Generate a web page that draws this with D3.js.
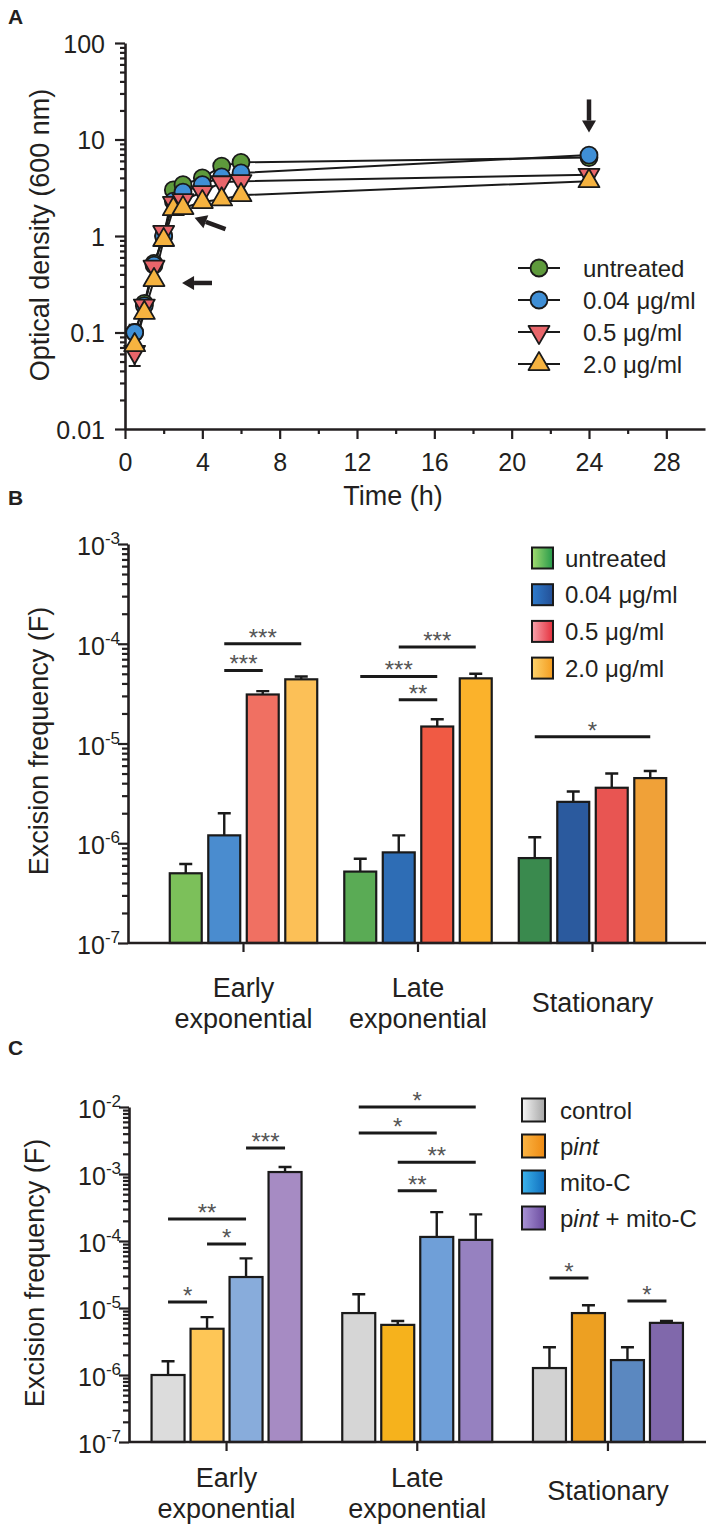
<!DOCTYPE html>
<html>
<head>
<meta charset="utf-8">
<script src="https://cdn.jsdelivr.net/npm/d3@7"></script>
<style>
  body { margin: 0; background: #fff; }
  svg text { font-family: "Liberation Sans", Arial, Helvetica, sans-serif; fill: #231f20; }
</style>
</head>
<body>
<svg id="fig" width="708" height="1530"></svg>
<script>
// ---------- Panel A: growth curves ----------
const times = [0.5, 1, 1.5, 2, 2.5, 3, 4, 5, 6, 24];
const odUntreated = [0.1, 0.2, 0.52, 1.0, 3.0, 3.4, 4.0, 5.3, 5.8, 6.5];
const odLow = [0.1, 0.19, 0.5, 1.0, 2.3, 2.85, 3.4, 4.1, 4.5, 6.9];
const odMid = [0.063, 0.19, 0.48, 1.1, 2.2, 2.35, 2.85, 3.6, 3.7, 4.3];
const odHigh = [0.074, 0.16, 0.35, 0.91, 1.9, 1.95, 2.25, 2.4, 2.65, 3.7];
const odErrBars = [ // [time, low, high]
  [0.5, 0.045, 0.12]
];
const timeTicks = [0, 4, 8, 12, 16, 20, 24, 28];
const timeMinor = [2, 6, 10, 14, 18, 22, 26];
const odTicks = [0.01, 0.1, 1, 10, 100];
const seriesA = ["untreated", "0.04 μg/ml", "0.5 μg/ml", "2.0 μg/ml"];
const arrowsA = [ // [tail time, tail OD, head time, head OD]
  [24, 26, 24, 11.8],
  [5.2, 1.18, 3.6, 1.55],
  [4.5, 0.326, 2.95, 0.326]
];

// ---------- Panel B: excision frequency, MMC doses ----------
const phases = [["Early", "exponential"], ["Late", "exponential"], ["Stationary"]];
const seriesB = ["untreated", "0.04 μg/ml", "0.5 μg/ml", "2.0 μg/ml"];
const bUntreated = [5.0e-7, 5.2e-7, 7.1e-7];
const bUntreatedErr = [6.2e-7, 7.0e-7, 1.15e-6];
const bLow = [1.2e-6, 8.1e-7, 2.6e-6];
const bLowErr = [2.0e-6, 1.2e-6, 3.3e-6];
const bMid = [3.1e-5, 1.48e-5, 3.6e-6];
const bMidErr = [3.35e-5, 1.75e-5, 5.0e-6];
const bHigh = [4.4e-5, 4.5e-5, 4.5e-6];
const bHighErr = [4.7e-5, 5.0e-5, 5.3e-6];
const bSig = [ // [group, bar a, bar b, level, label]
  [0, 1, 3, 1.0e-4, "***"],
  [0, 1, 2, 5.4e-5, "***"],
  [1, 1, 3, 9.3e-5, "***"],
  [1, 0, 2, 4.7e-5, "***"],
  [1, 1, 2, 2.75e-5, "**"],
  [2, 0, 3, 1.17e-5, "*"]
];

// ---------- Panel C: excision frequency, pint / mito-C ----------
const seriesC = ["control", "pint", "mito-C", "pint + mito-C"];
const cControl = [1.0e-6, 8.4e-6, 1.27e-6];
const cControlErr = [1.6e-6, 1.6e-5, 2.6e-6];
const cPint = [4.9e-6, 5.6e-6, 8.4e-6];
const cPintErr = [7.3e-6, 6.4e-6, 1.1e-5];
const cMito = [2.9e-5, 1.15e-4, 1.67e-6];
const cMitoErr = [5.5e-5, 2.7e-4, 2.6e-6];
const cCombo = [1.07e-3, 1.04e-4, 6.0e-6];
const cComboErr = [1.27e-3, 2.5e-4, 6.4e-6];
const cSig = [
  [0, 2, 3, 2.44e-3, "***"],
  [0, 0, 2, 2.13e-4, "**"],
  [0, 1, 2, 9.0e-5, "*"],
  [0, 0, 1, 1.23e-5, "*"],
  [1, 0, 3, 1.0e-2, "*"],
  [1, 0, 2, 4.1e-3, "*"],
  [1, 1, 3, 1.5e-3, "**"],
  [1, 1, 2, 5.6e-4, "**"],
  [2, 0, 1, 2.8e-5, "*"],
  [2, 2, 3, 1.27e-5, "*"]
];

const INK = "#231f20";
const svg = d3.select("#fig");

// panel letters
svg.selectAll(".panel-letter")
  .data([["A", 24], ["B", 505], ["C", 1055]])
  .enter().append("text")
  .attr("x", 8).attr("y", d => d[1])
  .attr("font-size", 21).attr("font-weight", "bold")
  .text(d => d[0]);

function styleAxis(g) {
  g.select(".domain").attr("stroke", INK).attr("stroke-width", 2.6);
  g.selectAll(".tick line").attr("stroke", INK).attr("stroke-width", 2.2);
}

function minorLogValues(lo, hi) {
  const vals = [];
  for (let e = Math.round(Math.log10(lo)); e < Math.round(Math.log10(hi)); e++)
    for (let k = 2; k <= 9; k++) vals.push(k * Math.pow(10, e));
  return vals;
}

// ================= Panel A =================
const xA = d3.scaleLinear().domain([0, 30]).range([125, 705]);
const yA = d3.scaleLog().domain([0.01, 100]).range([429, 43]);
const gA = svg.append("g");

// x axis
gA.append("g").attr("transform", "translate(0,429)")
  .call(d3.axisBottom(xA).tickValues(timeMinor).tickSize(5).tickFormat(""))
  .call(g => g.select(".domain").remove())
  .call(styleAxis);
gA.append("g").attr("transform", "translate(0,429)")
  .call(d3.axisBottom(xA).tickValues(timeTicks).tickSize(10).tickSizeOuter(0).tickFormat(d3.format("d")))
  .call(styleAxis)
  .call(g => g.selectAll(".tick text").attr("font-size", 25).attr("fill", INK)
    .attr("font-family", null).attr("y", 24).attr("dy", "0.71em"));

// y axis
gA.append("g").attr("transform", "translate(125,0)")
  .call(d3.axisLeft(yA).tickValues(minorLogValues(0.01, 100)).tickSize(5).tickFormat(""))
  .call(g => g.select(".domain").remove())
  .call(styleAxis);
gA.append("g").attr("transform", "translate(125,0)")
  .call(d3.axisLeft(yA).tickValues(odTicks).tickSize(10).tickSizeOuter(0).tickFormat(d3.format("~g")))
  .call(styleAxis)
  .call(g => g.selectAll(".tick text").attr("font-size", 25).attr("fill", INK)
    .attr("font-family", null).attr("x", -20).attr("dy", "0.36em"));

gA.append("text").attr("transform", "translate(49,235) rotate(-90)")
  .attr("text-anchor", "middle").attr("font-size", 27).text("Optical density (600 nm)");
gA.append("text").attr("x", 393).attr("y", 505)
  .attr("text-anchor", "middle").attr("font-size", 27).text("Time (h)");

const odSeries = [odUntreated, odLow, odMid, odHigh];
const odColors = ["#5e9a3c", "#3f8fd6", "#e8656a", "#f6b340"];
const odShapes = ["circle", "circle", "down", "up"];

const lineA = d3.line().x(d => xA(d[0])).y(d => yA(d[1]));
odSeries.forEach(vals => {
  gA.append("path")
    .datum(times.map((t, i) => [t, vals[i]]))
    .attr("d", lineA).attr("fill", "none")
    .attr("stroke", "#1a1a1a").attr("stroke-width", 2);
});

// error bars
odErrBars.forEach(e => {
  const x = xA(e[0]);
  gA.append("path")
    .attr("d", `M${x},${yA(e[1])}V${yA(e[2])}M${x - 6},${yA(e[1])}H${x + 6}M${x - 6},${yA(e[2])}H${x + 6}`)
    .attr("stroke", "#1a1a1a").attr("stroke-width", 2).attr("fill", "none");
});

function drawMarker(g, shape, color, cx, cy) {
  if (shape === "circle") {
    g.append("circle").attr("cx", cx).attr("cy", cy).attr("r", 8.5)
      .attr("fill", color).attr("stroke", "#1a1a1a").attr("stroke-width", 1.8);
  } else {
    const sym = d3.symbol(d3.symbolTriangle, 190);
    g.append("path").attr("d", sym())
      .attr("transform", `translate(${cx},${cy})` + (shape === "down" ? " rotate(180)" : ""))
      .attr("fill", color).attr("stroke", "#1a1a1a").attr("stroke-width", 1.8)
      .attr("stroke-linejoin", "round");
  }
}

odSeries.forEach((vals, s) => {
  times.forEach((t, i) => drawMarker(gA, odShapes[s], odColors[s], xA(t), yA(vals[i])));
});

// arrows
arrowsA.forEach(a => {
  const x1 = xA(a[0]), y1 = yA(a[1]), x2 = xA(a[2]), y2 = yA(a[3]);
  const ang = Math.atan2(y2 - y1, x2 - x1);
  const hl = 12, hw = 7;
  const bx = x2 - hl * Math.cos(ang), by = y2 - hl * Math.sin(ang);
  gA.append("line").attr("x1", x1).attr("y1", y1).attr("x2", bx).attr("y2", by)
    .attr("stroke", INK).attr("stroke-width", 4.5);
  gA.append("path")
    .attr("d", `M${x2},${y2}L${bx + hw * Math.sin(ang)},${by - hw * Math.cos(ang)}L${bx - hw * Math.sin(ang)},${by + hw * Math.cos(ang)}Z`)
    .attr("fill", INK);
});

// legend A
seriesA.forEach((name, i) => {
  const y = 268 + i * 32;
  gA.append("line").attr("x1", 518).attr("x2", 560).attr("y1", y).attr("y2", y)
    .attr("stroke", "#1a1a1a").attr("stroke-width", 2);
  drawMarker(gA, odShapes[i], odColors[i], 539, y);
  gA.append("text").attr("x", 583).attr("y", y + 8.5).attr("font-size", 24).text(name);
});

// ================= Bar panels =================
const defs = svg.append("defs");
function gradient(id, c1, c2) {
  const lg = defs.append("linearGradient").attr("id", id)
    .attr("x1", "0%").attr("x2", "100%").attr("y1", "0%").attr("y2", "0%");
  lg.append("stop").attr("offset", "0%").attr("stop-color", c1);
  lg.append("stop").attr("offset", "100%").attr("stop-color", c2);
  return `url(#${id})`;
}

function logTickLabel(g, y, x, exp) {
  const t = g.append("text").attr("x", x).attr("y", y + 11)
    .attr("text-anchor", "end").attr("font-size", 25);
  t.append("tspan").text("10");
  t.append("tspan").attr("dy", -11).attr("font-size", 17).text(`-${exp}`);
}

function barPanel(cfg) {
  const g = svg.append("g");
  const { y, axisX, axisEnd, xGroup, xInner, values, errs, colors, sig } = cfg;
  const base = y.range()[0];

  // y axis
  g.append("g").attr("transform", `translate(${axisX},0)`)
    .call(d3.axisLeft(y).tickValues(minorLogValues(...y.domain())).tickSize(6).tickFormat(""))
    .call(gg => gg.select(".domain").remove())
    .call(styleAxis);
  const majors = y.ticks().filter(v => Math.abs(Math.log10(v) - Math.round(Math.log10(v))) < 1e-9);
  g.append("g").attr("transform", `translate(${axisX},0)`)
    .call(d3.axisLeft(y).tickValues(majors).tickSize(10).tickSizeOuter(0).tickFormat(""))
    .call(styleAxis);
  majors.forEach(v => logTickLabel(g, y(v), axisX - 8, -Math.round(Math.log10(v))));

  // bars
  phases.forEach((ph, gi) => {
    const gx = xGroup(ph.join(" ")) + xGroup.bandwidth() / 2;
    values.forEach((vals, s) => {
      const x0 = gx + xInner(s);
      const w = xInner.bandwidth();
      const top = y(vals[gi]);
      const eTop = y(errs[s][gi]);
      const cx = x0 + w / 2;
      g.append("path")
        .attr("d", `M${cx},${top}V${eTop}M${cx - 6.5},${eTop}H${cx + 6.5}`)
        .attr("stroke", "#1a1a1a").attr("stroke-width", 2.4).attr("fill", "none");
      g.append("rect").attr("x", x0).attr("y", top).attr("width", w).attr("height", base - top)
        .attr("fill", colors[s][gi]).attr("stroke", "#1a1a1a").attr("stroke-width", 2.2);
    });
  });

  // x axis
  g.append("line").attr("x1", axisX).attr("x2", axisEnd).attr("y1", base).attr("y2", base)
    .attr("stroke", INK).attr("stroke-width", 2.6);
  g.append("g").attr("transform", `translate(0,${base})`)
    .call(d3.axisBottom(xGroup).tickSize(9).tickSizeOuter(0).tickFormat(""))
    .call(gg => gg.select(".domain").remove())
    .call(styleAxis);

  // category labels
  phases.forEach(ph => {
    const gx = xGroup(ph.join(" ")) + xGroup.bandwidth() / 2;
    const ys = ph.length === 2 ? cfg.twoLine : [cfg.oneLine];
    ph.forEach((line, li) => {
      g.append("text").attr("x", gx).attr("y", ys[li]).attr("text-anchor", "middle")
        .attr("font-size", 27).text(line);
    });
  });

  // significance bars
  sig.forEach(([gi, a, b, lvl, label]) => {
    const gx = xGroup(phases[gi].join(" ")) + xGroup.bandwidth() / 2;
    const xa = gx + xInner(a) + xInner.bandwidth() / 2;
    const xb = gx + xInner(b) + xInner.bandwidth() / 2;
    const yy = y(lvl);
    g.append("line").attr("x1", xa).attr("x2", xb).attr("y1", yy).attr("y2", yy)
      .attr("stroke", "#1a1a1a").attr("stroke-width", 3);
    g.append("text").attr("x", (xa + xb) / 2).attr("y", yy + 2).attr("text-anchor", "middle")
      .attr("font-size", 24).style("fill", "#555").text(label);
  });

  // y title
  g.append("text").attr("transform", `translate(${cfg.titleX},${cfg.titleY}) rotate(-90)`)
    .attr("text-anchor", "middle").attr("font-size", 27).text("Excision frequency (F)");
  return g;
}

// ---- Panel B
const yB = d3.scaleLog().domain([1e-7, 1e-3]).range([943, 544]);
const xB = d3.scaleBand().domain(phases.map(p => p.join(" "))).range([156.25, 679.75]);
const innerB = d3.scaleBand().domain([0, 1, 2, 3]).range([-77, 77]).paddingInner(0.17).paddingOuter(0.085);
const colorsB = [
  ["#7cc05a", "#5aab55", "#3a8a4e"],
  ["#4a8ccf", "#2e6db5", "#2b5a9e"],
  ["#f07062", "#f05a44", "#e85552"],
  ["#fcc057", "#fbb22b", "#f0a138"]
];
const gB = barPanel({
  y: yB, axisX: 128, axisEnd: 706, xGroup: xB, xInner: innerB,
  values: [bUntreated, bLow, bMid, bHigh],
  errs: [bUntreatedErr, bLowErr, bMidErr, bHighErr],
  colors: colorsB, sig: bSig,
  twoLine: [997, 1028], oneLine: 1012, titleX: 48, titleY: 741
});
const legB = [
  gradient("gB0", "#a3dc70", "#25994a"),
  gradient("gB1", "#2f7ccc", "#234f96"),
  gradient("gB2", "#f8a4ad", "#e52f3c"),
  gradient("gB3", "#fdd36c", "#f49c1f")
];
seriesB.forEach((name, i) => {
  const cy = 558 + i * 36.7;
  gB.append("rect").attr("x", 532).attr("y", cy - 10.5).attr("width", 21).attr("height", 21)
    .attr("fill", legB[i]).attr("stroke", "#1a1a1a").attr("stroke-width", 2);
  gB.append("text").attr("x", 565).attr("y", cy + 8.5).attr("font-size", 24).text(name);
});

// ---- Panel C
const yC = d3.scaleLog().domain([1e-7, 1e-2]).range([1442, 1107]);
const xC = d3.scaleBand().domain(phases.map(p => p.join(" "))).range([131.2, 703.3]);
const innerC = d3.scaleBand().domain([0, 1, 2, 3]).range([-78, 78]).paddingInner(0.154).paddingOuter(0.077);
const colorsC = [
  ["#dcdcdc", "#d6d6d6", "#d2d2d2"],
  ["#fec656", "#f6b21c", "#eda022"],
  ["#88acdb", "#6f9fd8", "#5b88c0"],
  ["#a68bc3", "#9681c0", "#8068ab"]
];
const gC = barPanel({
  y: yC, axisX: 129, axisEnd: 706, xGroup: xC, xInner: innerC,
  values: [cControl, cPint, cMito, cCombo],
  errs: [cControlErr, cPintErr, cMitoErr, cComboErr],
  colors: colorsC, sig: cSig,
  twoLine: [1487, 1518], oneLine: 1500, titleX: 44, titleY: 1273
});
const legC = [
  gradient("gC0", "#f5f5f5", "#a5a5a5"),
  gradient("gC1", "#fbb545", "#ee8a12"),
  gradient("gC2", "#3cb4ec", "#0f6dbd"),
  gradient("gC3", "#a994d6", "#6a4a9e")
];
seriesC.forEach((name, i) => {
  const cy = 1110 + i * 36;
  gC.append("rect").attr("x", 522).attr("y", cy - 11.5).attr("width", 23).attr("height", 23)
    .attr("fill", legC[i]).attr("stroke", "#1a1a1a").attr("stroke-width", 2);
  const t = gC.append("text").attr("x", 560).attr("y", cy + 8.5).attr("font-size", 24);
  if (name.startsWith("pint")) {
    t.append("tspan").text("p");
    t.append("tspan").attr("font-style", "italic").text("int");
    t.append("tspan").text(name.slice(4));
  } else {
    t.text(name);
  }
});
</script>
</body>
</html>
